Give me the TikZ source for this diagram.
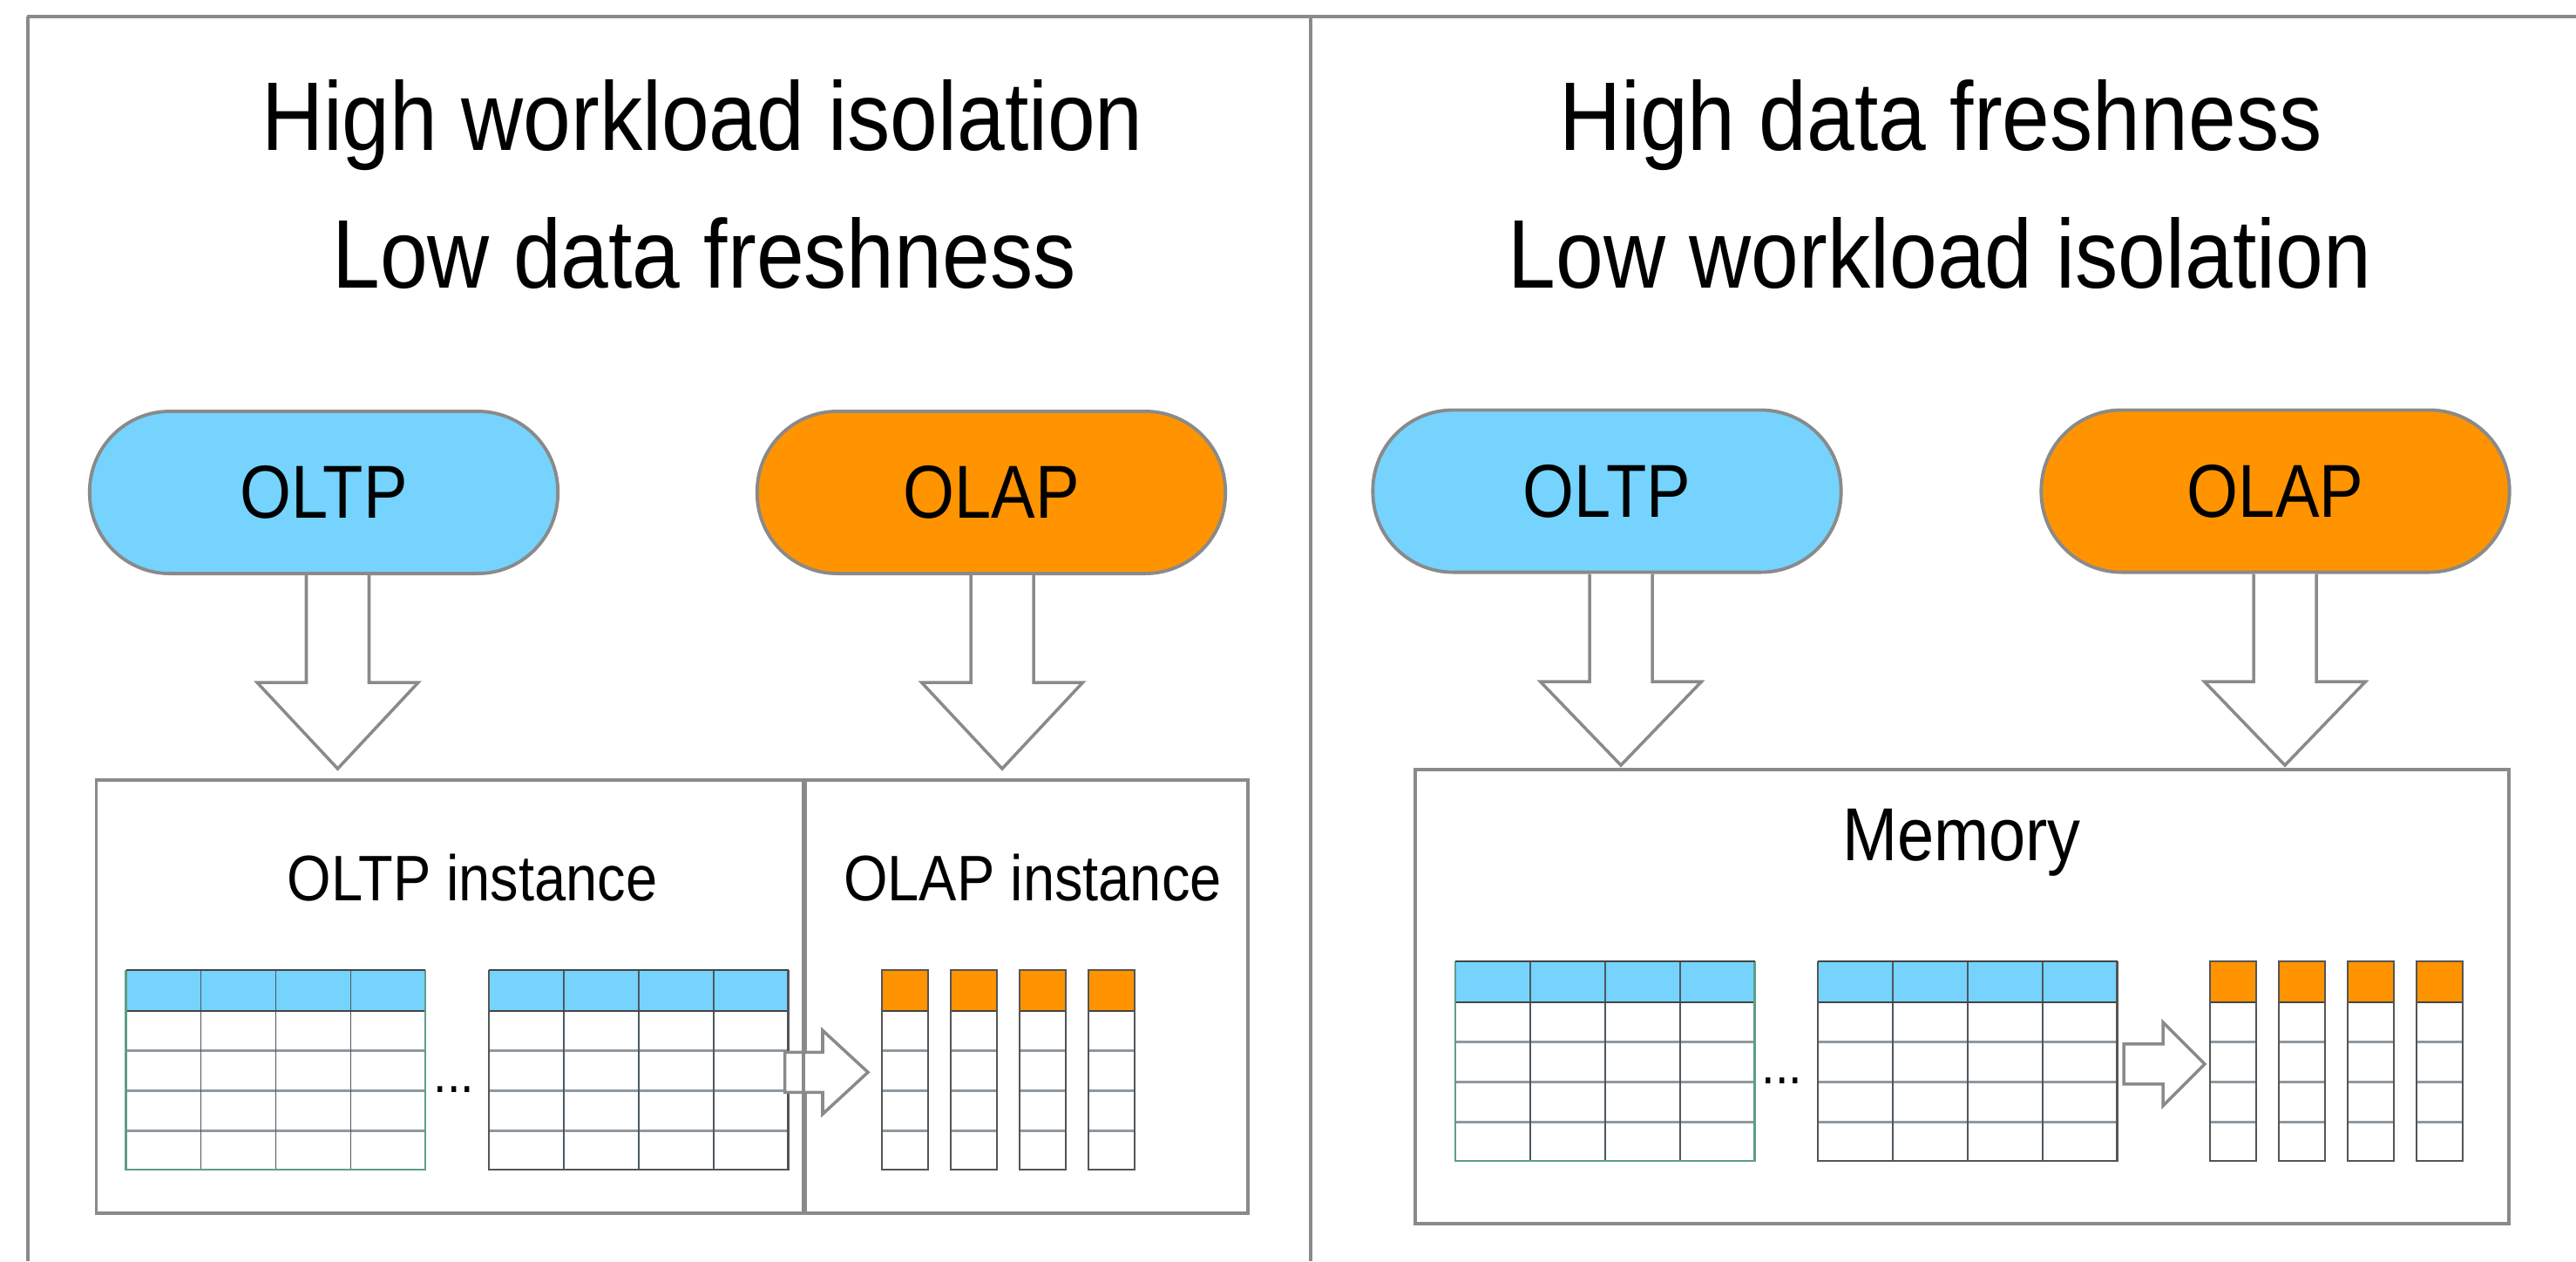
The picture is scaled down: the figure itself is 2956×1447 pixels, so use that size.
\documentclass[tikz,border=0pt]{standalone}
\usepackage{fontspec}
\setmainfont[FakeStretch=0.88]{Liberation Sans}
\usetikzlibrary{calc}

\definecolor{oltpblue}{HTML}{75D3FD}
\definecolor{olaporange}{HTML}{FF9300}
\definecolor{framegray}{HTML}{8A8A8A}
\definecolor{gridcol}{HTML}{4C5862}
\definecolor{rowcol}{HTML}{8E989F}
\definecolor{edgegreen}{HTML}{5E9E86}
\definecolor{edgedark}{HTML}{555555}

\tikzset{
  pill/.style={draw=framegray, line width=1.1pt, rounded corners=0.92cm,
    minimum width=5.37cm, minimum height=1.86cm, inner sep=0pt,
    font=\fontsize{24.5}{28}\selectfont},
  panelbox/.style={draw=framegray, line width=1.1pt, inner sep=0pt, anchor=north west},
  frameline/.style={draw=framegray, line width=0.9pt},
  hollow/.style={draw=framegray, line width=1.0pt, fill=white, line join=miter},
  titletext/.style={anchor=base, inner sep=0pt, font=\fontsize{31.8}{38}\selectfont},
  labeltext/.style={anchor=base, inner sep=0pt, font=\fontsize{21}{25}\selectfont},
  memtext/.style={anchor=base, inner sep=0pt, font=\fontsize{24.5}{28}\selectfont},
  dotstext/.style={anchor=base, inner sep=0pt, font=\fontsize{18}{20}\selectfont},
  rowline/.style={draw=rowcol, line width=0.85pt},
  colline/.style={draw=gridcol, line width=0.5pt},
  headline/.style={draw=edgedark!80!black, line width=0.8pt},
  tabedge/.style={line width=0.7pt},
}

% row-oriented table: #1 name, #2 left x, #3 top y, #4 colour of side and bottom edges
\newcommand\rowtable[4]{%
  \begin{scope}[shift={(#2,#3)}]
    \node[inner sep=0pt, minimum width=3.435cm, minimum height=2.29cm, anchor=north west] (#1) at (0,0) {};
    \fill[oltpblue] (0,0) rectangle (343.5,47);
    \foreach \yy in {92,138,184} \draw[rowline] (0,\yy) -- (343.5,\yy);
    \foreach \xx in {86,172,258} \draw[colline] (\xx,0) -- (\xx,229);
    \draw[headline] (0,47) -- (343.5,47);
    \draw[tabedge, draw=#4] (0,0) -- (0,229) -- (343.5,229) -- (343.5,0);
    \draw[headline] (0,0) -- (343.5,0);
  \end{scope}}

% one column of a column store: #1 name, #2 left x, #3 top y
\newcommand\colstrip[3]{%
  \begin{scope}[shift={(#2,#3)}]
    \node[inner sep=0pt, minimum width=0.53cm, minimum height=2.29cm, anchor=north west] (#1) at (0,0) {};
    \fill[olaporange] (0,0) rectangle (53,47);
    \foreach \yy in {92,138,184} \draw[rowline] (0,\yy) -- (53,\yy);
    \draw[headline] (0,47) -- (53,47);
    \draw[tabedge, draw=edgedark] (0,0) rectangle (53,229);
  \end{scope}}

% hollow block arrow pointing down: #1 source node, #2 target node, #3 x offset, #4 gap above target, #5 head length
\newcommand\hollowdown[5]{%
  \coordinate (hdS) at ($(#1.south)+(#3,0)$);
  \coordinate (hdT) at ($(hdS |- #2.north)+(0,-#4)$);
  \draw[hollow] ($(hdS)+(-36,0)$) -- ($(hdT)+(-36,-#5)$) -- ($(hdT)+(-92.5,-#5)$)
    -- (hdT) -- ($(hdT)+(92.5,-#5)$) -- ($(hdT)+(36,-#5)$) -- ($(hdS)+(36,0)$);}

% hollow block arrow pointing right: #1 source node, #2 target node, #3 y offset, #4 overlap into source, #5 gap before target, #6 head length
\newcommand\hollowright[6]{%
  \coordinate (hrS) at ($(#1.east)+(-#4,#3)$);
  \coordinate (hrT) at ($(hrS -| #2.west)+(-#5,0)$);
  \draw[hollow] ($(hrS)+(0,-23)$) -- ($(hrT)+(-#6,-23)$) -- ($(hrT)+(-#6,-48)$)
    -- (hrT) -- ($(hrT)+(-#6,48)$) -- ($(hrT)+(-#6,23)$) -- ($(hrS)+(0,23)$) -- cycle;}

\begin{document}
\begin{tikzpicture}[x=0.01cm, y=-0.01cm]
\useasboundingbox (0,0) rectangle (2956,1447);

% outer frame and the panel divider
\draw[frameline, line width=1.4pt] (31,19) -- (2956,19);
\draw[frameline] (32,19) -- (32,1447);
\draw[frameline] (1504,19) -- (1504,1447);

% panel headings
\node[titletext] (tl1) at (806,172) {High workload isolation};
\node[titletext] (tl2) at (808,330) {Low data freshness};
\node[titletext] (tr1) at (2227,172) {High data freshness};
\node[titletext] (tr2) at (2226,330) {Low workload isolation};

% workload sources
\node[pill, fill=oltpblue] (oltpL) at (371.5,565) {OLTP};
\node[pill, fill=olaporange] (olapL) at (1137.5,565) {OLAP};
\node[pill, fill=oltpblue] (oltpR) at (1844,563.5) {OLTP};
\node[pill, fill=olaporange] (olapR) at (2611,563.5) {OLAP};

% separate instances (left)
\node[panelbox, minimum width=8.135cm, minimum height=4.97cm] (oltpinst) at (108.5,893) {};
\node[panelbox, minimum width=5.08cm, minimum height=4.97cm] (olapinst) at (922,893) {};
\node[labeltext] (oltpinstlabel) at (542,1033) {OLTP instance};
\node[labeltext] (olapinstlabel) at (1185,1033) {OLAP instance};

% shared memory (right)
\node[panelbox, minimum width=12.54cm, minimum height=5.21cm] (memory) at (1622,881) {};
\node[memtext] (memlabel) at (2251,987) {Memory};

% workload arrows
\hollowdown{oltpL}{oltpinst}{16}{11}{99}
\hollowdown{olapL}{olapinst}{12.5}{11}{99}
\hollowdown{oltpR}{memory}{16}{3}{96}
\hollowdown{olapR}{memory}{11}{3}{96}

% left: row store tables and column store
\rowtable{tabLa}{144.5}{1113}{edgegreen}
\rowtable{tabLb}{561}{1113}{edgedark}
\node[dotstext] (dotsL) at (521,1253) {...};
\colstrip{colLa}{1012}{1113}
\colstrip{colLb}{1091}{1113}
\colstrip{colLc}{1170}{1113}
\colstrip{colLd}{1249}{1113}
\hollowright{tabLb}{colLa}{2}{5.5}{16}{52}
\draw[frameline, line width=1.1pt] (olapinst.north west) -- (olapinst.south west);

% right: row store tables and column store in one memory
\rowtable{tabRa}{1670}{1103}{edgegreen}
\rowtable{tabRb}{2086}{1103}{edgedark}
\node[dotstext] (dotsR) at (2045,1243) {...};
\colstrip{colRa}{2536}{1103}
\colstrip{colRb}{2615}{1103}
\colstrip{colRc}{2694}{1103}
\colstrip{colRd}{2773}{1103}
\hollowright{tabRb}{colRa}{2.5}{-6}{6}{48}
\end{tikzpicture}
\end{document}
